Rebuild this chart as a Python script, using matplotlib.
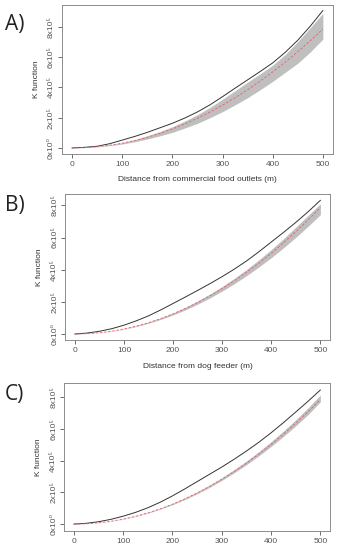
import numpy as np
import matplotlib
matplotlib.use('Agg')
import matplotlib.pyplot as plt

plt.rcParams['font.family'] = ['Liberation Sans', 'DejaVu Sans']

dist = [0, 25, 50, 75, 100, 125, 150, 175, 200, 225, 250,
        275, 300, 325, 350, 375, 400, 425, 450, 475, 500]

# theoretical K (red dashed), same in all panels
k_theo = [0, 1963, 7854, 17671, 31416, 49087, 70686, 96211, 125664, 159043, 196350,
          237583, 282743, 331831, 384845, 441786, 502655, 567450, 636173, 708822, 785398]

# panel A - commercial food outlets
a_obs = [0, 4000, 11000, 28000, 52000, 76000, 103000, 133000, 163000, 198000, 238000,
         285000, 339000, 395000, 450000, 505000, 562000, 632000, 712000, 805000, 908000]
a_hi = [0, 2100, 8500, 19500, 35000, 55000, 80000, 108000, 140000, 178000, 220000,
        268000, 322000, 378000, 435000, 490000, 547000, 618000, 703000, 795000, 890000]
a_lo = [0, 1700, 6800, 15000, 26000, 41000, 59000, 80000, 103000, 132000, 163000,
        200000, 240000, 285000, 332000, 385000, 440000, 500000, 560000, 635000, 719000]

# panel B - dog feeder
b_obs = [0, 6000, 17000, 33000, 55000, 82000, 113000, 150000, 190000, 230000, 271000,
         313000, 357000, 404000, 455000, 512000, 572000, 632000, 694000, 760000, 831000]
b_hi = [0, 2050, 8200, 18500, 32800, 51300, 73900, 100500, 131300, 166200, 205200,
        248300, 295500, 346800, 402200, 461700, 525300, 593000, 664800, 738000, 810000]
b_lo = [0, 1850, 7400, 16700, 29700, 46400, 66800, 90900, 118800, 150300, 185500,
        224500, 267200, 313600, 363700, 417500, 475000, 536200, 601200, 670000, 742000]

# panel C
c_obs = [0, 5000, 15000, 30000, 50000, 74000, 103000, 138000, 178000, 222000, 268000,
         314000, 360000, 409000, 461000, 516000, 576000, 640000, 707000, 775000, 846000]
c_hi = [0, 2000, 8100, 18300, 32500, 50800, 73200, 99600, 130000, 164600, 203000,
        246000, 292600, 343400, 398000, 457000, 520000, 587000, 658000, 734000, 815000]
c_lo = [0, 1900, 7660, 17200, 30600, 47900, 68900, 93800, 122500, 155000, 191400,
        231600, 275700, 323500, 375000, 430700, 490000, 553000, 620000, 691000, 772000]

panels = ['A)', 'B)', 'C)']
xlabels = ['Distance from commercial food outlets (m)', 'Distance from dog feeder (m)', '']
yticks = [0, 200000, 400000, 600000, 800000]
yticklabels = ['0x10\u2070', '2x10\u2075', '4x10\u2075', '6x10\u2075', '8x10\u2075']

positions = [[0.183, 0.72, 0.799, 0.271],
             [0.192, 0.381, 0.782, 0.267],
             [0.189, 0.035, 0.785, 0.2685]]
ylims = [(-40000, 945000), (-40000, 873000), (-42000, 890000)]
label_y = [0.955, 0.627, 0.282]

fig = plt.figure(figsize=(3.39, 5.5), dpi=100)
data = [(a_obs, a_hi, a_lo), (b_obs, b_hi, b_lo), (c_obs, c_hi, c_lo)]
frame = '#8c8c8c'
for i, (obs, hi, lo) in enumerate(data):
    ax = fig.add_axes(positions[i])
    ax.fill_between(dist, lo, hi, color='#bfbfbf', lw=0)
    ax.plot(dist, obs, color='#333333', lw=0.7)
    ax.plot(dist, k_theo, color='#e8606a', lw=0.6, ls=(0, (3, 2)))
    ax.set_xlim(-20, 520)
    ax.set_ylim(*ylims[i])
    ax.set_xticks([0, 100, 200, 300, 400, 500])
    ax.set_yticks(yticks)
    ax.set_yticklabels(yticklabels, rotation=90, va='center')
    ax.tick_params(labelsize=6, colors='#555555', length=3, width=0.6, pad=2)
    for s in ax.spines.values():
        s.set_color(frame)
        s.set_linewidth(0.7)
    ax.set_ylabel('K function', fontsize=6, color='#333333', labelpad=6)
    if xlabels[i]:
        ax.set_xlabel(xlabels[i], fontsize=6, color='#333333', labelpad=6)
    fig.text(0.015, label_y[i], panels[i], fontsize=15, color='#222222',
             family=['Open Sans', 'DejaVu Sans'], va='center')

fig.savefig('out.png', dpi=100)
